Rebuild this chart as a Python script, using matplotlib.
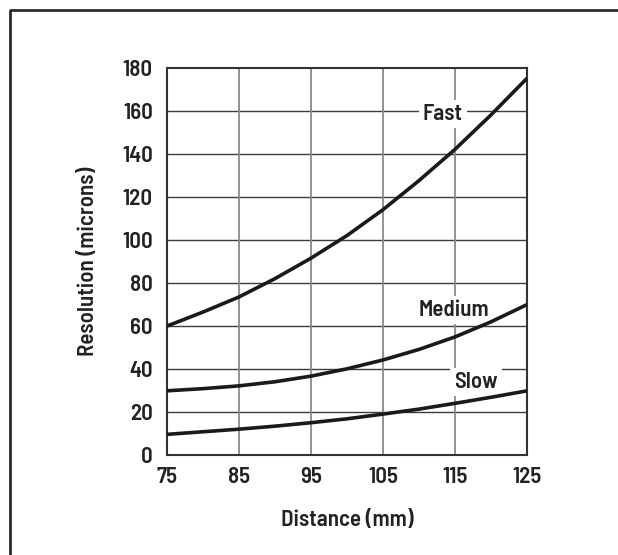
import numpy as np
import matplotlib.pyplot as plt
from matplotlib.lines import Line2D

# values
distance = [75, 80, 85, 90, 95, 100, 105, 110, 115, 120, 125]
fast = [60, 66.5, 73.5, 82, 91.5, 102, 114, 127.5, 142, 158, 175]
medium = [30, 31, 32.3, 34.2, 36.8, 40.2, 44.3, 49.2, 55, 62, 70]
slow = [9.8, 11, 12.2, 13.6, 15.2, 17, 19.2, 21.5, 24.2, 27, 30]

x_ticks = [75, 85, 95, 105, 115, 125]
y_ticks = [0, 20, 40, 60, 80, 100, 120, 140, 160, 180]

# curve labels (text, x, y)
labels = [('Fast', 113.3, 158.3), ('Medium', 114.8, 67.6), ('Slow', 117.9, 34.1)]

# condensed face, close to the one in the original figure
plt.rcParams['font.family'] = ['Barlow Semi Condensed', 'Asap Condensed', 'DejaVu Sans']
plt.rcParams['font.weight'] = 600
plt.rcParams['axes.labelweight'] = 600
plt.rcParams['font.size'] = 16.5

fig = plt.figure(figsize=(6.18, 5.55), dpi=100)
ax = fig.add_axes([0.2697, 0.1793, 0.583, 0.699])

# frame around the figure (only top and left visible)
fig.add_artist(Line2D([0.0162, 0.0162, 1.0], [0.0, 0.982, 0.982],
                      transform=fig.transFigure, color='#222222', lw=1.9))

ax.set_xlim(75, 125)
ax.set_ylim(0, 180)
ax.set_xticks(x_ticks)
ax.set_yticks(y_ticks)
ax.tick_params(length=0, colors='#222222')
ax.tick_params(axis='x', pad=8)
ax.tick_params(axis='y', pad=10)

for y in y_ticks[1:-1]:
    ax.axhline(y, color='#3c3c3c', lw=1.0, zorder=1)
for x in x_ticks[1:-1]:
    ax.axvline(x, color='#8a8a8a', lw=1.3, zorder=1)

for s in ax.spines.values():
    s.set_color('#333333')
    s.set_linewidth(1.5)

for ys in (fast, medium, slow):
    ax.plot(distance, ys, color='#1a1a1a', lw=2.6, solid_capstyle='butt', zorder=4)

for txt, x, y in labels:
    ax.text(x, y, txt, ha='center', va='center', color='#222222', zorder=3,
            bbox=dict(fc='white', ec='none', pad=3))

ax.set_xlabel('Distance (mm)', color='#222222', va='center')
ax.xaxis.set_label_coords(0.5, -0.166)
ax.set_ylabel('Resolution (microns)', color='#222222', va='center')
ax.yaxis.set_label_coords(-0.218, 0.5)

fig.savefig('out.png', dpi=100)
